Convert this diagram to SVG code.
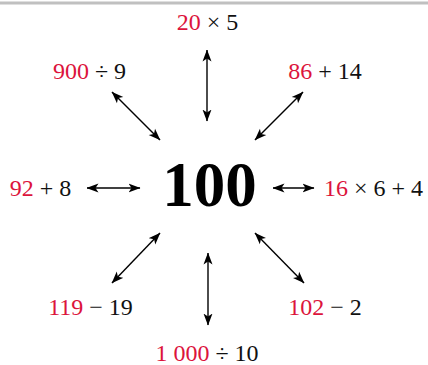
<svg xmlns="http://www.w3.org/2000/svg" width="428" height="365" viewBox="0 0 428 365">
<style>
.t{font-family:"Liberation Serif","DejaVu Serif",serif;font-size:24px;fill:#111}
.r{fill:#dc143c}
.big{font-family:"Liberation Serif","DejaVu Serif",serif;font-size:63px;font-weight:bold;fill:#000}
.a{stroke:#000;stroke-width:1.4;fill:none;marker-start:url(#h);marker-end:url(#h)}
</style>
<defs>
<marker id="h" viewBox="0 0 12 10" refX="11.5" refY="5" markerWidth="12" markerHeight="10" markerUnits="userSpaceOnUse" orient="auto-start-reverse">
<path d="M0,0.5 L12,5 L0,9.5 L3,5 Z" fill="#000"/>
</marker>
</defs>
<rect x="0" y="1.5" width="428" height="3" fill="#c0c0c0"/>
<g id="connectors">
<line class="a" x1="207" y1="50" x2="207" y2="121"/>
<line class="a" x1="112" y1="92" x2="160" y2="140"/>
<line class="a" x1="303" y1="92" x2="255" y2="140"/>
<line class="a" x1="87" y1="188" x2="140" y2="188"/>
<line class="a" x1="273" y1="188" x2="314" y2="188"/>
<line class="a" x1="160" y1="233" x2="112" y2="283"/>
<line class="a" x1="255" y1="233" x2="304" y2="283"/>
<line class="a" x1="208" y1="253" x2="208" y2="325"/>
</g>
<g id="center"><text class="big" x="209.5" y="206" text-anchor="middle">100</text></g>
<g id="n-top"><text class="t" x="207.5" y="30" text-anchor="middle"><tspan class="r">20</tspan> × 5</text></g>
<g id="n-tl"><text class="t" x="89.5" y="79" text-anchor="middle"><tspan class="r">900</tspan> ÷ 9</text></g>
<g id="n-tr"><text class="t" x="325" y="79" text-anchor="middle"><tspan class="r">86</tspan> + 14</text></g>
<g id="n-l"><text class="t" x="40.5" y="196" text-anchor="middle"><tspan class="r">92</tspan> + 8</text></g>
<g id="n-r"><text class="t" x="373.5" y="196" text-anchor="middle"><tspan class="r">16</tspan> × 6 + 4</text></g>
<g id="n-bl"><text class="t" x="90.5" y="315" text-anchor="middle"><tspan class="r">119</tspan> − 19</text></g>
<g id="n-br"><text class="t" x="325" y="315" text-anchor="middle"><tspan class="r">102</tspan> − 2</text></g>
<g id="n-b"><text class="t" x="207" y="361" text-anchor="middle"><tspan class="r">1 000</tspan> ÷ 10</text></g>
</svg>
